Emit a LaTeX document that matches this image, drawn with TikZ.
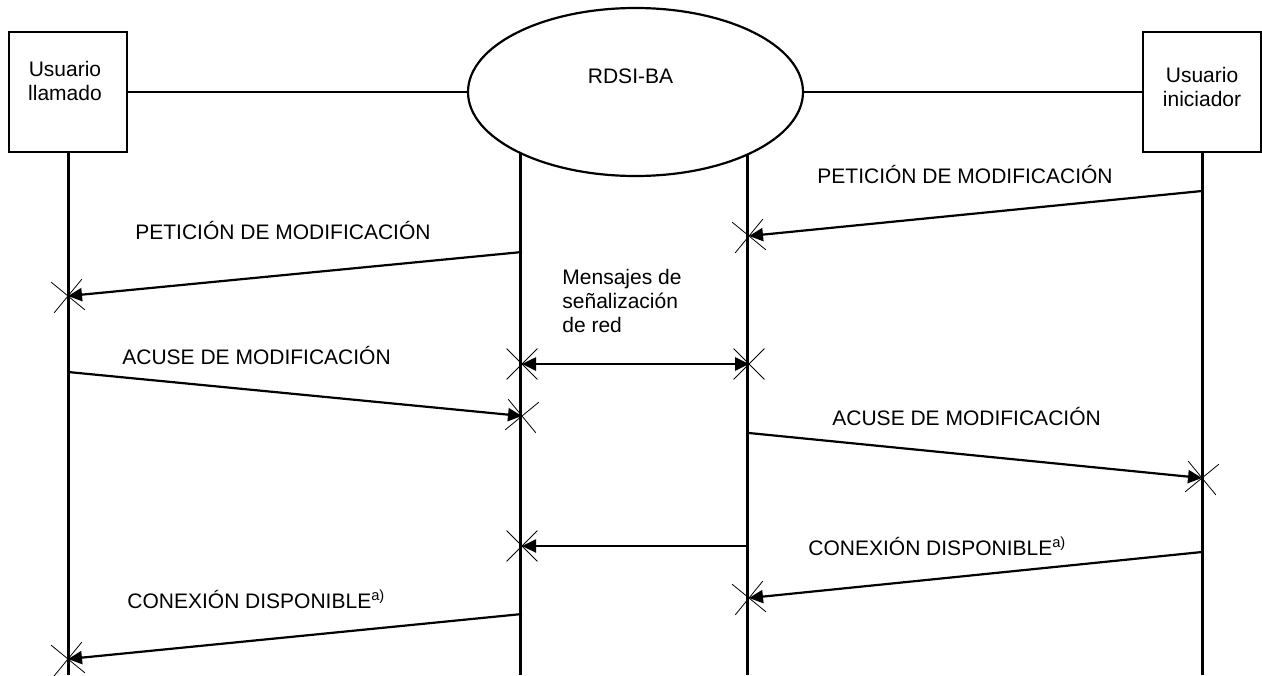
\documentclass[tikz,border=0pt]{standalone}
\usepackage{fontspec}
\setmainfont{Liberation Sans}
\usepackage{tikz}
\usetikzlibrary{shapes,arrows.meta,positioning}

\tikzset{
  userbox/.style={draw, line width=0.85pt, minimum width=59pt, minimum height=60pt, inner sep=0pt},
  netcloud/.style={draw, ellipse, line width=1.1pt, minimum width=167.5pt, minimum height=84pt, inner sep=0pt, outer sep=0pt},
  lifeline/.style={line width=1.5pt},
  msg/.style={line width=1.1pt, -{Triangle[length=7pt,width=6.5pt]}},
  dmsg/.style={line width=1.3pt, {Triangle[length=7pt,width=6.5pt]}-{Triangle[length=7pt,width=6.5pt]}},
  xmark/.style={draw, cross out, arrows=-, line width=0.4pt, minimum size=15pt, inner sep=0pt, sloped},
  lbl/.style={anchor=base west, inner sep=0pt}
}

\begin{document}
\begin{tikzpicture}[x=0.5pt, y=-0.5pt, font=\fontsize{10.5}{12}\selectfont]
    \useasboundingbox (0,0) rectangle (1262,675);

    % Users and network
    \node[userbox] (llamado) at (68,92) {};
    \node[userbox] (iniciador) at (1202,92) {};
    \node[netcloud] (rdsi) at (635.5,92) {};
    \node[align=center, anchor=north, inner sep=0pt] (llamadotxt) at (65,61) {Usuario\\llamado};
    \node[align=center, anchor=north, inner sep=0pt] (iniciadortxt) at (1202,67) {Usuario\\iniciador};
    \node[anchor=base, inner sep=0pt] (rdsitxt) at (630.5,83) {RDSI-BA};
    \draw[line width=1.4pt] (llamado) -- (rdsi);
    \draw[line width=1.4pt] (rdsi) -- (iniciador);

    % Lifelines
    \coordinate (bot) at (0,675);
    \draw[lifeline] (llamado.south) -- (llamado.south |- bot);
    \draw[lifeline] (iniciador.south) -- (iniciador.south |- bot);
    \draw[lifeline] (rdsi.208.5) -- (rdsi.208.5 |- bot);
    \draw[lifeline] (rdsi.331.5) -- (rdsi.331.5 |- bot);

    % Message end points
    \coordinate (m1s) at (1202,191); \coordinate (m1e) at (749,236);
    \coordinate (m2s) at (522,252);  \coordinate (m2e) at (68,296);
    \coordinate (m3s) at (522,364);  \coordinate (m3e) at (749,364);
    \coordinate (m4s) at (68,372);   \coordinate (m4e) at (522,416);
    \coordinate (m5s) at (749,433);  \coordinate (m5e) at (1202,478);
    \coordinate (m6s) at (749,546);  \coordinate (m6e) at (522,546);
    \coordinate (m7s) at (1202,552); \coordinate (m7e) at (749,598);
    \coordinate (m8s) at (522,614);  \coordinate (m8e) at (68,659);

    % Messages
    \draw[msg] (m1s) -- (m1e) node[xmark, pos=1] (x1) {};
    \draw[msg] (m2s) -- (m2e) node[xmark, pos=1] (x2) {};
    \draw[dmsg] (m3s) -- (m3e) node[xmark, pos=0] (x3a) {} node[xmark, pos=1] (x3b) {};
    \draw[msg] (m4s) -- (m4e) node[xmark, pos=1] (x4) {};
    \draw[msg] (m5s) -- (m5e) node[xmark, pos=1] (x5) {};
    \draw[msg] (m6s) -- (m6e) node[xmark, pos=1] (x6) {};
    \draw[msg] (m7s) -- (m7e) node[xmark, pos=1] (x7) {};
    \draw[msg] (m8s) -- (m8e) node[xmark, pos=1] (x8) {};

    % Labels
    \node[lbl] (l1) at (817,183.5) {PETICIÓN DE MODIFICACIÓN};
    \node[lbl] (l2) at (135,239.5) {PETICIÓN DE MODIFICACIÓN};
    \node[anchor=north west, align=left, inner sep=0pt] (red) at (562,269) {Mensajes de\\señalización\\de red};
    \node[lbl] (l3) at (122,364.5) {ACUSE DE MODIFICACIÓN};
    \node[lbl] (l4) at (832,425.5) {ACUSE DE MODIFICACIÓN};
    \node[lbl] (l5) at (808,555.5) {CONEXIÓN DISPONIBLE\textsuperscript{a)}};
    \node[lbl] (l6) at (127,608.5) {CONEXIÓN DISPONIBLE\textsuperscript{a)}};
\end{tikzpicture}
\end{document}
